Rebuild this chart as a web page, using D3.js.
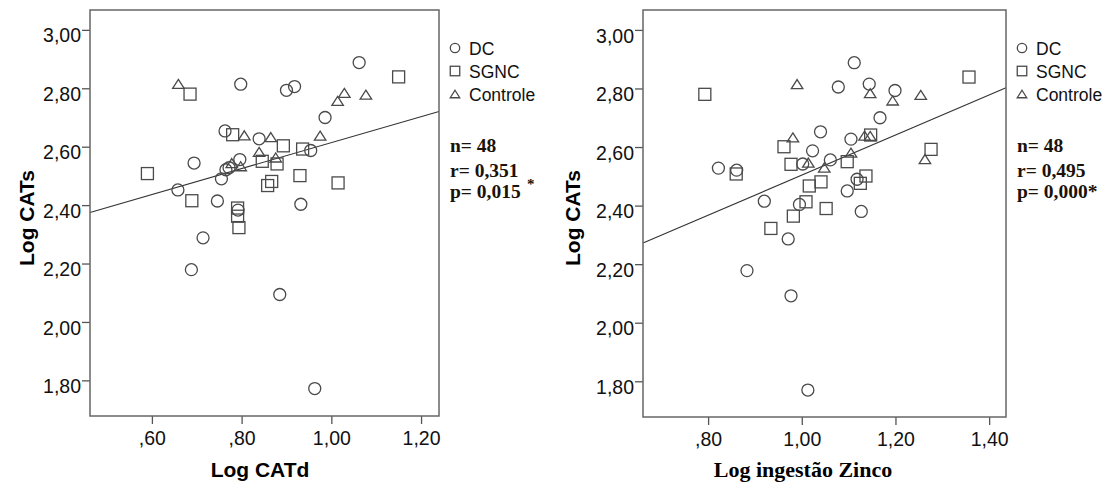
<!DOCTYPE html>
<html>
<head>
  <meta charset="utf-8">
  <title>Log CATs scatter</title>
  <script src="https://cdn.jsdelivr.net/npm/d3@7"></script>
  <style>
    body { margin: 0; background: #fff; }
    svg { display: block; }
    .tick text { font-family: "Liberation Sans", Arial, sans-serif; font-size: 19.5px; fill: #111; }
    .tick line { stroke: #555; stroke-width: 1.3; }
    .frame { fill: none; stroke: #666; stroke-width: 1.5; }
    .mark { fill: none; stroke: #4a4a4a; stroke-width: 1.3; }
    .fit { stroke: #333; stroke-width: 1.1; }
    .ytitle { font-family: "Liberation Sans", Arial, sans-serif; font-weight: bold; font-size: 21px; }
    .legend text { font-family: "Liberation Sans", Arial, sans-serif; font-size: 17.5px; fill: #111; }
    .stats text { font-family: "Liberation Serif", "Times New Roman", serif; font-weight: bold; font-size: 19.5px; fill: #1a1208; }
  </style>
</head>
<body>
<svg id="chart" width="1117" height="488"></svg>
<script>
  // values (Log CATs on y for both panels)
  var dcX_catd = [1.062, 0.798, 0.900, 0.918, 0.986, 0.763, 0.839, 0.954, 0.796, 0.694, 0.765, 0.772, 0.755, 0.658, 0.746, 0.932, 0.792, 0.714, 0.688, 0.885, 0.963];
  var dcY_catd = [2.888, 2.814, 2.793, 2.806, 2.700, 2.654, 2.627, 2.587, 2.556, 2.544, 2.521, 2.528, 2.490, 2.452, 2.414, 2.403, 2.383, 2.288, 2.179, 2.094, 1.772];
  var sgncX_catd = [1.150, 0.685, 0.780, 0.893, 0.936, 0.846, 0.879, 0.590, 0.930, 1.015, 0.867, 0.858, 0.689, 0.791, 0.791, 0.794];
  var sgncY_catd = [2.839, 2.780, 2.641, 2.603, 2.592, 2.550, 2.541, 2.508, 2.501, 2.476, 2.481, 2.467, 2.415, 2.390, 2.362, 2.323];
  var ctrlX_catd = [0.659, 1.029, 1.077, 1.014, 0.806, 0.865, 0.975, 0.839, 0.876, 0.778, 0.798];
  var ctrlY_catd = [2.815, 2.784, 2.778, 2.757, 2.639, 2.633, 2.638, 2.582, 2.563, 2.544, 2.533];

  var dcX_zn = [1.112, 1.078, 1.144, 1.199, 1.167, 1.040, 1.105, 1.023, 1.061, 0.822, 0.861, 1.002, 1.118, 1.097, 0.920, 0.995, 1.127, 0.971, 0.883, 0.977, 1.013];
  var dcY_zn = [2.888, 2.805, 2.815, 2.793, 2.700, 2.652, 2.627, 2.587, 2.556, 2.528, 2.521, 2.542, 2.490, 2.450, 2.415, 2.404, 2.380, 2.286, 2.178, 2.092, 1.770];
  var sgncX_zn = [1.357, 0.793, 0.962, 1.147, 0.977, 1.097, 1.276, 0.860, 1.137, 1.041, 1.016, 1.125, 1.052, 1.009, 0.982, 0.934];
  var sgncY_zn = [2.839, 2.780, 2.601, 2.641, 2.541, 2.550, 2.592, 2.508, 2.501, 2.481, 2.467, 2.476, 2.390, 2.413, 2.364, 2.322];
  var ctrlX_zn = [0.990, 1.146, 1.194, 1.254, 0.981, 1.134, 1.146, 1.105, 1.014, 1.048, 1.263];
  var ctrlY_zn = [2.815, 2.784, 2.759, 2.778, 2.633, 2.639, 2.638, 2.581, 2.547, 2.530, 2.559];

  // fit line (intercept, slope)
  var fit_catd = [2.169, 0.445];
  var fit_zn = [1.820, 0.684];

  var yTicks = [1.8, 2.0, 2.2, 2.4, 2.6, 2.8, 3.0];
  var xTicks_catd = [0.6, 0.8, 1.0, 1.2];
  var xTicks_zn = [0.8, 1.0, 1.2, 1.4];
  var groupNames = ['DC', 'SGNC', 'Controle'];
  var stats_catd = ['n= 48', 'r= 0,351', 'p= 0,015'];
  var stats_zn = ['n= 48', 'r= 0,495', 'p= 0,000*'];

  var svg = d3.select('#chart');

  // SPSS style labels: ",60" and "1,00"
  var fmt = function(v) {
    var s = d3.format('.2f')(v).replace('.', ',');
    return v < 1 ? s.replace(/^0/, '') : s;
  };

  var triPath = function(w, h) {
    return 'M0,' + (-h / 2) + 'L' + (w / 2) + ',' + (h / 2) + 'L' + (-w / 2) + ',' + (h / 2) + 'Z';
  };

  var drawMark = function(g, shape, x, y, big) {
    if (shape === 0) {
      g.append('circle').attr('class', 'mark').attr('cx', x).attr('cy', y).attr('r', big ? 6 : 4.7);
    } else if (shape === 1) {
      var s = big ? 12 : 9.5;
      g.append('rect').attr('class', 'mark').attr('x', x - s / 2).attr('y', y - s / 2).attr('width', s).attr('height', s);
    } else {
      g.append('path').attr('class', 'mark').attr('transform', 'translate(' + x + ',' + y + ')')
        .attr('d', big ? triPath(11.5, 9) : triPath(9.5, 7.5));
    }
  };

  var panel = function(opt) {
    var x = d3.scaleLinear().domain(opt.xDomain).range([opt.left, opt.right]);
    var y = d3.scaleLinear().domain([1.678, 3.068]).range([opt.bottom, opt.top]);

    svg.append('g')
      .attr('transform', 'translate(' + opt.left + ',0)')
      .call(d3.axisLeft(y).tickValues(yTicks).tickFormat(fmt).tickSize(8).tickPadding(1))
      .call(function(g) { g.select('.domain').remove(); })
      .selectAll('text').attr('dy', '0.62em');

    svg.append('g')
      .attr('transform', 'translate(0,' + opt.bottom + ')')
      .call(d3.axisBottom(x).tickValues(opt.xTicks).tickFormat(fmt).tickSize(8).tickPadding(7))
      .call(function(g) { g.select('.domain').remove(); });

    var plot = svg.append('g');
    plot.append('line').attr('class', 'fit')
      .attr('x1', x(opt.xDomain[0])).attr('y1', y(opt.fit[0] + opt.fit[1] * opt.xDomain[0]))
      .attr('x2', x(opt.xDomain[1])).attr('y2', y(opt.fit[0] + opt.fit[1] * opt.xDomain[1]));

    opt.groups.forEach(function(grp, k) {
      grp[0].forEach(function(v, i) {
        drawMark(plot, k, x(v), y(grp[1][i]), true);
      });
    });

    svg.append('rect').attr('class', 'frame')
      .attr('x', opt.left).attr('y', opt.top)
      .attr('width', opt.right - opt.left).attr('height', opt.bottom - opt.top);

    svg.append('text').attr('class', 'ytitle')
      .attr('transform', 'translate(' + opt.yTitleX + ',' + 218 + ') rotate(-90)')
      .attr('text-anchor', 'middle')
      .text('Log CATs');

    svg.append('text')
      .attr('x', opt.xTitleX).attr('y', 477)
      .attr('text-anchor', 'middle')
      .attr('font-family', opt.xTitleFont)
      .attr('font-weight', 'bold')
      .attr('font-size', opt.xTitleSize)
      .text(opt.xTitle);

    var leg = svg.append('g').attr('class', 'legend');
    groupNames.forEach(function(name, k) {
      var yy = 48 + k * 23;
      drawMark(leg, k, opt.right + 16, yy, false);
      leg.append('text').attr('x', opt.right + 30).attr('y', yy + 7).text(name);
    });

    var st = svg.append('g').attr('class', 'stats');
    opt.stats.forEach(function(s, k) {
      st.append('text').attr('x', opt.right + 11).attr('y', [152, 177, 198][k]).text(s);
    });
    if (opt.supStar) {
      st.append('text').attr('x', opt.right + 88).attr('y', 189).style('font-size', '15px').text('*');
    }
  };

  panel({
    left: 90, right: 439, top: 10, bottom: 416,
    xDomain: [0.462, 1.240], xTicks: xTicks_catd,
    groups: [[dcX_catd, dcY_catd], [sgncX_catd, sgncY_catd], [ctrlX_catd, ctrlY_catd]],
    fit: fit_catd, stats: stats_catd, supStar: true,
    yTitleX: 34, xTitle: 'Log CATd', xTitleX: 260,
    xTitleFont: '"Liberation Sans", Arial, sans-serif', xTitleSize: '21px'
  });

  panel({
    left: 643, right: 1006, top: 10, bottom: 417,
    xDomain: [0.661, 1.436], xTicks: xTicks_zn,
    groups: [[dcX_zn, dcY_zn], [sgncX_zn, sgncY_zn], [ctrlX_zn, ctrlY_zn]],
    fit: fit_zn, stats: stats_zn, supStar: false,
    yTitleX: 580, xTitle: 'Log ingestão Zinco', xTitleX: 803,
    xTitleFont: '"Liberation Serif", "Times New Roman", serif', xTitleSize: '22px'
  });
</script>
</body>
</html>
